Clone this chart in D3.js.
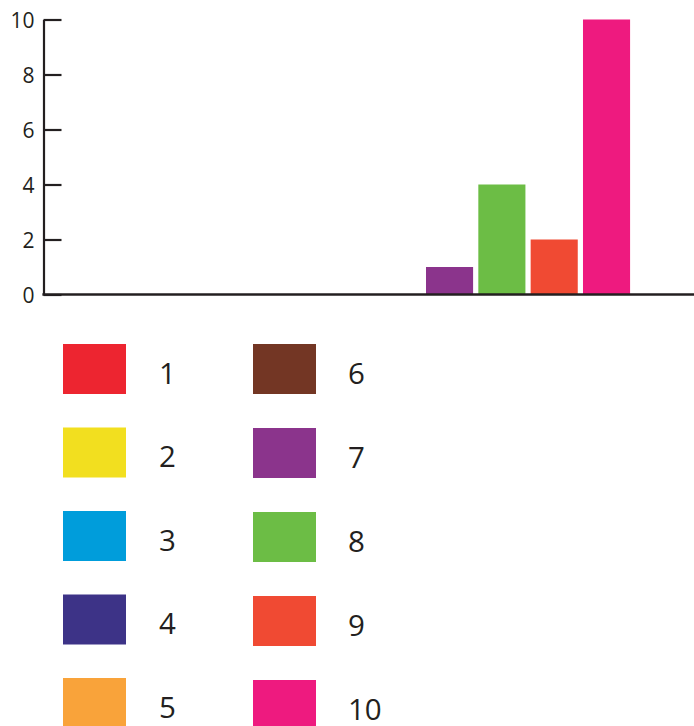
<!DOCTYPE html>
<html>
<head>
<meta charset="utf-8">
<script src="https://cdn.jsdelivr.net/npm/d3@7"></script>
<style>
  html, body { margin: 0; padding: 0; background: #fff; }
  svg { display: block; }
  text { font-family: "Open Sans", "Noto Sans", sans-serif; fill: #231f20; }
</style>
</head>
<body>
<svg id="chart" width="694" height="726"></svg>
<script>
const categories = ["1", "2", "3", "4", "5", "6", "7", "8", "9", "10"];
const values = [0, 0, 0, 0, 0, 0, 1, 4, 2, 10];
const colors = ["#ED2530", "#F2DF1F", "#009DDB", "#3D3387", "#F9A33A",
                "#733624", "#8B348C", "#6CBD45", "#F04A33", "#EE1A7F"];
const yTicks = [0, 2, 4, 6, 8, 10];

const svg = d3.select("#chart");
const ink = "#231f20";

const y = d3.scaleLinear().domain([0, 10]).range([294.5, 19.5]);
const x = d3.scaleBand().domain(categories).range([109.4, 632.7])
  .paddingInner(0.1).paddingOuter(0.05);
const color = d3.scaleOrdinal().domain(categories).range(colors);

// bars
svg.append("g").selectAll("rect")
  .data(categories.map((c, i) => ({ c, v: values[i] })).filter(d => d.v > 0))
  .join("rect")
  .attr("x", d => x(d.c))
  .attr("width", x.bandwidth())
  .attr("y", d => y(d.v))
  .attr("height", d => y(0) - y(d.v))
  .attr("fill", d => color(d.c));

// y axis
const yAxis = d3.axisLeft(y).tickValues(yTicks).tickSizeInner(-18).tickSizeOuter(0).tickPadding(9);
const gy = svg.append("g").attr("transform", "translate(43.5,0)").call(yAxis);
gy.select(".domain").attr("stroke", ink).attr("stroke-width", 2.2);
gy.selectAll(".tick line").attr("stroke", ink).attr("stroke-width", 2.2);
gy.selectAll(".tick text").attr("font-size", 21).attr("font-family", "Open Sans").attr("fill", ink)
  .attr("dy", "0.4em");

// x axis baseline
svg.append("line")
  .attr("x1", 42.4).attr("x2", 694)
  .attr("y1", y(0)).attr("y2", y(0))
  .attr("stroke", ink).attr("stroke-width", 2.4);

// legend
const legend = svg.append("g");
categories.forEach((c, i) => {
  const col = Math.floor(i / 5), row = i % 5;
  const sx = col === 0 ? 63 : 253;
  const sy = col === 0 ? 344 + row * 83.5 : 344 + row * 84;
  legend.append("rect")
    .attr("x", sx).attr("y", sy).attr("width", 63).attr("height", 50)
    .attr("fill", color(c));
  legend.append("text")
    .attr("x", col === 0 ? 159 : 348).attr("y", sy + 39.5)
    .attr("font-size", 29.5)
    .text(c);
});
</script>
</body>
</html>
